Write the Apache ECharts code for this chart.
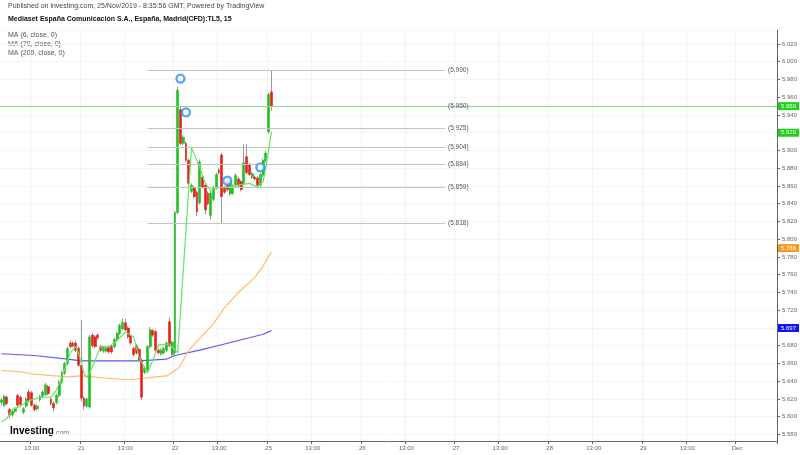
<!DOCTYPE html>
<html>
<head>
<meta charset="utf-8">
<script src="https://cdn.jsdelivr.net/npm/echarts@6/dist/echarts.min.js"></script>
<style>
html,body{margin:0;padding:0;background:#fff;}
#chart{width:800px;height:455px;}
</style>
</head>
<body>
<div id="chart"></div>
<script>
// ---------- data ----------
const days = ['20','21','22','25','26','27','28','29','02'];
const xTickLabels = {
  '20 13:00':'13:00','21 09:00':'21','21 13:00':'13:00','22 09:00':'22','22 13:00':'13:00',
  '25 09:00':'25','25 13:00':'13:00','26 09:00':'26','26 13:00':'13:00','27 09:00':'27',
  '27 13:00':'13:00','28 09:00':'28','28 13:00':'13:00','29 09:00':'29','29 13:00':'13:00','02 09:00':'Dec'
};
const opens = [5.616,5.613,5.622,5.608,5.602,5.606,5.624,5.622,5.605,5.612,
5.628,5.627,5.613,5.609,5.619,5.623,5.625,5.634,5.620,5.615,
5.616,5.624,5.639,5.649,5.660,5.683,5.683,5.683,5.677,5.658,
5.621,5.612,5.611,5.692,5.690,5.692,5.679,5.674,5.674,5.678,
5.679,5.679,5.687,5.694,5.699,5.706,5.700,5.691,5.677,5.680,
5.676,5.664,5.650,5.653,5.679,5.697,5.696,5.675,5.671,5.672,
5.675,5.707,5.670,5.672,5.830,5.946,5.908,5.908,5.889,5.854,
5.858,5.853,5.841,5.870,5.861,5.852,5.827,5.845,5.858,5.878,
5.895,5.858,5.866,5.851,5.852,5.861,5.868,5.865,5.863,5.893,
5.884,5.870,5.870,5.869,5.861,5.872,5.889,5.921,5.966];
const closes = [5.619,5.623,5.615,5.602,5.606,5.609,5.613,5.614,5.609,5.620,
5.618,5.613,5.608,5.612,5.623,5.628,5.636,5.626,5.615,5.610,
5.624,5.639,5.650,5.660,5.677,5.679,5.680,5.675,5.658,5.621,
5.612,5.620,5.690,5.680,5.679,5.689,5.675,5.678,5.677,5.673,
5.673,5.687,5.694,5.703,5.706,5.698,5.690,5.683,5.670,5.672,
5.664,5.622,5.655,5.679,5.698,5.692,5.675,5.672,5.675,5.677,
5.683,5.680,5.684,5.830,5.968,5.908,5.915,5.889,5.863,5.861,
5.848,5.831,5.887,5.859,5.833,5.840,5.852,5.858,5.873,5.875,
5.848,5.853,5.856,5.866,5.860,5.872,5.860,5.856,5.886,5.875,
5.873,5.874,5.868,5.861,5.873,5.889,5.897,5.963,5.950];
const lows = [5.613,5.611,5.613,5.598,5.600,5.604,5.611,5.612,5.603,5.610,
5.616,5.611,5.606,5.607,5.617,5.621,5.623,5.624,5.613,5.606,
5.614,5.622,5.637,5.647,5.658,5.677,5.678,5.673,5.656,5.617,
5.608,5.610,5.609,5.678,5.677,5.687,5.673,5.672,5.672,5.671,
5.671,5.677,5.685,5.692,5.697,5.696,5.688,5.681,5.668,5.670,
5.662,5.619,5.648,5.651,5.677,5.690,5.673,5.670,5.669,5.670,
5.673,5.678,5.668,5.670,5.828,5.906,5.906,5.887,5.861,5.852,
5.846,5.826,5.839,5.857,5.828,5.838,5.822,5.843,5.856,5.873,
5.818,5.851,5.854,5.849,5.850,5.859,5.858,5.854,5.861,5.873,
5.871,5.868,5.866,5.857,5.859,5.870,5.887,5.919,5.945];
const highs = [5.621,5.625,5.624,5.610,5.608,5.611,5.626,5.624,5.611,5.622,
5.631,5.629,5.615,5.614,5.625,5.630,5.638,5.636,5.622,5.617,
5.626,5.641,5.652,5.662,5.679,5.686,5.685,5.686,5.679,5.709,
5.623,5.622,5.692,5.694,5.692,5.694,5.681,5.680,5.679,5.680,
5.681,5.689,5.696,5.705,5.711,5.710,5.702,5.693,5.679,5.682,
5.678,5.666,5.657,5.681,5.701,5.699,5.698,5.677,5.677,5.679,
5.685,5.712,5.686,5.832,5.972,5.950,5.917,5.910,5.891,5.863,
5.860,5.855,5.890,5.872,5.863,5.854,5.854,5.860,5.875,5.880,
5.897,5.860,5.868,5.868,5.862,5.874,5.870,5.867,5.907,5.907,
5.886,5.876,5.872,5.871,5.875,5.891,5.900,5.965,5.990];
// moving averages: [bar index, value]
const ma6Points = [[0,5.594],[2,5.598],[4,5.608],[7,5.612],[9,5.617],[11,5.619],[14,5.622],[18,5.622],[20,5.630],
[22,5.645],[25,5.672],[27,5.679],[28,5.672],[30,5.649],[31,5.644],[33,5.656],[36,5.679],[39,5.679],[42,5.686],
[45,5.6955],[48,5.690],[50,5.667],[53,5.649],[55,5.664],[57,5.681],[61,5.682],[64,5.672],[69,5.903],[72,5.881],
[74,5.863],[76,5.855],[79,5.858],[83,5.859],[86,5.861],[90,5.863],[93,5.859],[95,5.865],[96,5.881],[98,5.921]];
const ma70Points = [[0,5.652],[6,5.651],[12,5.648],[24,5.645],[29,5.646],[36,5.644],[44,5.642],[48,5.642],[56,5.645],
[60,5.646],[62,5.650],[64,5.654],[65,5.658],[68,5.675],[77,5.705],[81,5.723],[86,5.740],[92,5.757],[95,5.770],[98,5.786]];
const ma200Points = [[0,5.671],[12,5.669],[24,5.665],[29,5.663],[40,5.663],[50,5.663],[60,5.665],[63,5.669],
[72,5.675],[81,5.682],[90,5.689],[95,5.693],[98,5.697]];
const maLast = [5.920, 5.786, 5.697];
const lastPrice = 5.950;
const levels = [5.990, 5.950, 5.925, 5.904, 5.884, 5.859, 5.818];
const markerPoints = [[65,5.981],[67,5.943],[82,5.866],[94,5.881]];

// ---------- build ----------
const times = [];
for (let h = 9; h < 18; h++) for (let m = 0; m < 60; m += 15) {
  if (h === 17 && m > 15) continue;
  times.push((h < 10 ? '0' : '') + h + ':' + (m === 0 ? '00' : m));
}
const allCats = [];
days.forEach(d => times.forEach(t => allCats.push(d + ' ' + t)));
const categories = allCats.slice(5, 5 + 282);

const wickData = opens.map((o, i) => [o, closes[i], lows[i], highs[i]]);
const bodyData = opens.map((o, i) => [o, closes[i], Math.min(o, closes[i]), Math.max(o, closes[i])]);
const showTick = (idx, val) => xTickLabels[val] !== undefined;

const FONT = '"Liberation Sans", Arial, sans-serif';
const yTop = 30, yMin = 5.58, pxPerUnit = 887.5;
const yBottom = 44 + (6.02 - yMin) * pxPerUnit;
const yMax = 6.02 + (44 - yTop) / pxPerUnit;

function axisBox(v, bg) {
  return {
    yAxis: v,
    lineStyle: { color: 'rgba(0,0,0,0)', width: 0 },
    label: {
      show: true, position: 'end', distance: 1, formatter: v.toFixed(3),
      backgroundColor: bg, color: '#fff', fontSize: 6, fontFamily: FONT,
      padding: [1, 3, 1, 3]
    }
  };
}

const chart = echarts.init(document.getElementById('chart'), null, { renderer: 'canvas' });
chart.setOption({
  animation: false,
  textStyle: { fontFamily: FONT },
  grid: [
    { left: 0, right: 23, top: yTop, height: yBottom - yTop },
    { left: 0, right: 23, top: yTop, bottom: 14 }
  ],
  xAxis: [
    { type: 'category', gridIndex: 0, data: categories, show: false, boundaryGap: true },
    { type: 'category', gridIndex: 1, data: categories, boundaryGap: true, position: 'bottom',
      axisLine: { lineStyle: { color: '#666', width: 1 } },
      axisTick: { show: true, interval: showTick, length: 3, lineStyle: { color: '#666' } },
      axisLabel: { interval: showTick, formatter: v => xTickLabels[v] || '', fontSize: 6, color: '#666', margin: 4 },
      splitLine: { show: true, interval: showTick, lineStyle: { color: '#f0f2f5' } }
    }
  ],
  yAxis: [
    { type: 'value', gridIndex: 0, position: 'right', min: yMin, max: yMax, interval: 0.02,
      axisLine: { show: false },
      axisTick: { show: true, length: 3, lineStyle: { color: '#666' } },
      axisLabel: { formatter: v => v.toFixed(3), fontSize: 6, color: '#666', margin: 5, showMaxLabel: false },
      splitLine: { show: true, lineStyle: { color: '#f5f6f8' } }
    },
    { type: 'value', gridIndex: 1, position: 'right', min: 0, max: 1,
      axisLine: { show: true, lineStyle: { color: '#666', width: 1 } },
      axisTick: { show: false }, axisLabel: { show: false }, splitLine: { show: false }
    }
  ],
  graphic: [
    { type: 'text', left: 8, top: 3, style: { text: 'Published on investing.com, 25/Nov/2019 - 8:35:56 GMT, Powered by TradingView', font: '7px ' + FONT, fill: '#444' } },
    { type: 'text', left: 8, top: 16, style: { text: 'Mediaset España Comunicación S.A., España, Madrid(CFD):TL5, 15', font: 'bold 7px ' + FONT, fill: '#111' } },
    { type: 'text', left: 8, top: 32, style: { text: 'MA (6, close, 0)', font: '7px ' + FONT, fill: '#555' } },
    { type: 'text', left: 8, top: 41, style: { text: 'MA (70, close, 0)', font: '7px ' + FONT, fill: '#555' } },
    { type: 'text', left: 8, top: 50, style: { text: 'MA (200, close, 0)', font: '7px ' + FONT, fill: '#555' } },
    { type: 'text', left: 10, top: 426, style: { text: 'Investing', font: 'bold 10px ' + FONT, fill: '#000' } },
    { type: 'text', left: 54, top: 430, style: { text: '.com', font: '7px ' + FONT, fill: '#777' } }
  ],
  series: [
    { name: 'levels', type: 'line', xAxisIndex: 0, yAxisIndex: 0, data: [], z: 1, silent: true,
      markLine: { symbol: ['none', 'none'], silent: true,
        data: levels.map(v => [
          { coord: [53, v], lineStyle: { color: '#c4c4c4', width: 1, type: 'solid' },
            label: { show: true, position: 'end', distance: 3, formatter: '(' + v.toFixed(3) + ')', fontSize: 6.5, color: '#555' } },
          { coord: [161, v] }
        ]).concat([
          { yAxis: lastPrice, lineStyle: { color: '#8fdc8f', width: 1, type: 'solid' },
            label: { show: true, position: 'end', distance: 1, formatter: lastPrice.toFixed(3), backgroundColor: '#1fd11f', color: '#fff', fontSize: 6, padding: [1, 3, 1, 3] } }
        ])
      }
    },
    { name: 'maBoxes', type: 'line', xAxisIndex: 0, yAxisIndex: 0, data: [], z: 6, silent: true,
      markLine: { symbol: ['none', 'none'], silent: true,
        data: [axisBox(maLast[0], '#1fd11f'), axisBox(maLast[1], '#f8981d'), axisBox(maLast[2], '#1212f5')] } },
    { name: 'MA200', type: 'line', data: ma200Points, connectNulls: true, showSymbol: false, z: 2,
      lineStyle: { color: '#5a5af5', width: 1.2 } },
    { name: 'MA70', type: 'line', data: ma70Points, connectNulls: true, showSymbol: false, z: 2,
      lineStyle: { color: '#ffbd6b', width: 1.2 } },
    { name: 'wicks', type: 'candlestick', data: wickData, barWidth: 1, z: 3,
      itemStyle: { color: 'rgba(0,0,0,0)', color0: 'rgba(0,0,0,0)', borderColor: '#9a9a9a', borderColor0: '#9a9a9a', borderWidth: 1 } },
    { name: 'bodies', type: 'candlestick', data: bodyData, barWidth: 2.4, z: 4,
      itemStyle: { color: '#22bf22', color0: '#e8201a', borderColor: '#22bf22', borderColor0: '#e8201a', borderWidth: 0.6 } },
    { name: 'MA6', type: 'line', data: ma6Points, connectNulls: true, showSymbol: false, z: 5,
      lineStyle: { color: '#62e662', width: 1.2 } },
    { name: 'events', type: 'scatter', data: markerPoints, symbol: 'circle', symbolSize: 8, z: 6,
      itemStyle: { color: '#ffffff', borderColor: '#2a90f0', borderWidth: 2.4 } }
  ]
});
</script>
</body>
</html>
